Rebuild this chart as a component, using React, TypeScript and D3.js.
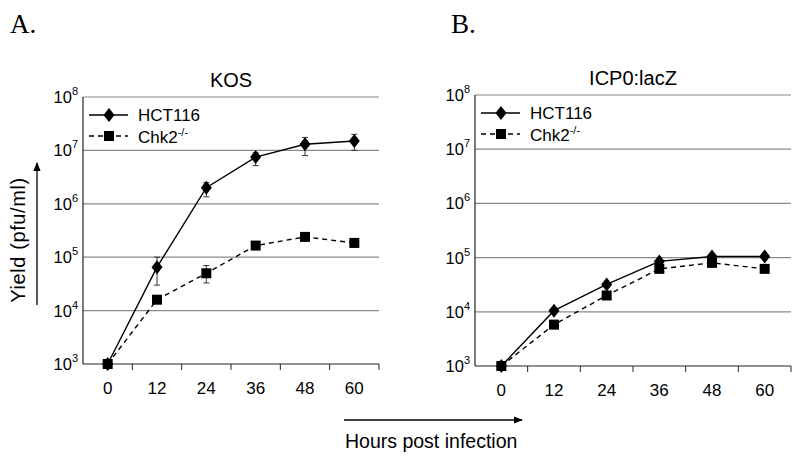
import React from 'react'
import * as d3 from 'd3'

const hours = ['0', '12', '24', '36', '48', '60']

// KOS panel
const kosHct = [1e3, 6.5e4, 2.0e6, 7.5e6, 1.3e7, 1.5e7]
const kosHctLo = [1e3, 3.0e4, 1.35e6, 5.2e6, 8.0e6, 1.0e7]
const kosHctHi = [1e3, 1.0e5, 2.5e6, 9.0e6, 1.75e7, 2.0e7]
const kosChk = [1e3, 1.6e4, 5.0e4, 1.65e5, 2.4e5, 1.85e5]
const kosChkLo = [1e3, 1.5e4, 3.3e4, 1.55e5, 2.1e5, 1.8e5]
const kosChkHi = [1e3, 1.7e4, 7.0e4, 1.8e5, 2.8e5, 1.9e5]

// ICP0:lacZ panel
const lacHct = [1e3, 1.05e4, 3.2e4, 8.5e4, 1.05e5, 1.05e5]
const lacChk = [1e3, 5.8e3, 2.0e4, 6.2e4, 8.0e4, 6.2e4]

const yTicks = [3, 4, 5, 6, 7, 8]

const sans = 'Liberation Sans, Arial, sans-serif'

interface PanelProps {
  title: string
  x0: number
  x1: number
  y0: number
  y1: number
  hct: number[]
  chk: number[]
  hctLo?: number[]
  hctHi?: number[]
  chkLo?: number[]
  chkHi?: number[]
}

function Diamond({ x, y }: { x: number; y: number }) {
  return <path d={`M${x},${y - 7}L${x + 5.5},${y}L${x},${y + 7}L${x - 5.5},${y}Z`} fill="#000" />
}
function Square({ x, y }: { x: number; y: number }) {
  return <rect x={x - 5} y={y - 5} width={10} height={10} fill="#000" />
}

function Panel(p: PanelProps) {
  const x = d3.scaleBand().domain(hours).range([p.x0, p.x1])
  const y = d3.scaleLog().domain([1e3, 1e8]).range([p.y1, p.y0])
  const cx = (h: string) => (x(h) as number) + x.bandwidth() / 2
  const line = d3.line<number>()
    .x((_, i) => cx(hours[i]))
    .y(d => y(d))

  const errs = (v: number[], lo?: number[], hi?: number[]) =>
    lo && hi
      ? v.map((_, i) => {
          if (lo[i] === hi[i]) return null
          const px = cx(hours[i])
          return (
            <g key={i} stroke="#333" strokeWidth={1}>
              <line x1={px} x2={px} y1={y(hi[i])} y2={y(lo[i])} />
              <line x1={px - 3} x2={px + 3} y1={y(hi[i])} y2={y(hi[i])} />
              <line x1={px - 3} x2={px + 3} y1={y(lo[i])} y2={y(lo[i])} />
            </g>
          )
        })
      : null

  const lx = p.x0 + 6
  return (
    <g>
      <text x={(p.x0 + p.x1) / 2} y={p.y0 - 10} textAnchor="middle" fontSize={20} fontFamily={sans}>
        {p.title}
      </text>
      {yTicks.slice(1).map(t => (
        <line key={t} x1={p.x0} x2={p.x1} y1={y(10 ** t)} y2={y(10 ** t)} stroke="#8a8a8a" strokeWidth={1.2} />
      ))}
      {yTicks.map(t => (
        <text key={t} x={p.x0 - 5} y={y(10 ** t) + 6} textAnchor="end" fontSize={16.5} fontFamily={sans}>
          10
          <tspan fontSize={11} dy={-8}>{t}</tspan>
        </text>
      ))}
      <line x1={p.x0} x2={p.x0} y1={p.y0} y2={p.y1} stroke="#222" strokeWidth={1.2} />
      <line x1={p.x0} x2={p.x1} y1={p.y1} y2={p.y1} stroke="#222" strokeWidth={1.2} />
      {hours.slice(1).map(h => (
        <line key={h} x1={x(h) as number} x2={x(h) as number} y1={p.y1} y2={p.y1 + 6} stroke="#222" />
      ))}
      <line x1={p.x1} x2={p.x1} y1={p.y1} y2={p.y1 + 6} stroke="#222" />
      {hours.map(h => (
        <text key={h} x={cx(h)} y={p.y1 + 30} textAnchor="middle" fontSize={17} fontFamily={sans}>
          {h}
        </text>
      ))}

      {errs(p.hct, p.hctLo, p.hctHi)}
      {errs(p.chk, p.chkLo, p.chkHi)}
      <path d={line(p.chk) || ''} fill="none" stroke="#000" strokeWidth={1.4} strokeDasharray="5,4" />
      <path d={line(p.hct) || ''} fill="none" stroke="#000" strokeWidth={1.4} />
      {p.chk.map((v, i) => <Square key={i} x={cx(hours[i])} y={y(v)} />)}
      {p.hct.map((v, i) => <Diamond key={i} x={cx(hours[i])} y={y(v)} />)}

      {/* legend */}
      <line x1={lx} x2={lx + 39} y1={p.y0 + 18} y2={p.y0 + 18} stroke="#000" strokeWidth={1.4} />
      <Diamond x={lx + 20} y={p.y0 + 18} />
      <text x={lx + 49} y={p.y0 + 24} fontSize={17} fontFamily={sans}>HCT116</text>
      <line x1={lx} x2={lx + 39} y1={p.y0 + 39} y2={p.y0 + 39} stroke="#000" strokeWidth={1.4} strokeDasharray="5,4" />
      <Square x={lx + 20} y={p.y0 + 39} />
      <text x={lx + 49} y={p.y0 + 46} fontSize={17} fontFamily={sans}>
        Chk2
        <tspan fontSize={11} dy={-7}>-/-</tspan>
      </text>
    </g>
  )
}

export default function App() {
  return (
    <svg width={800} height={459} style={{ position: 'absolute', left: 0, top: 0, background: '#fff' }}>
      <defs>
        <marker id="ah" viewBox="0 0 10 10" refX={9} refY={5} markerWidth={7} markerHeight={7} orient="auto">
          <path d="M0,1L10,5L0,9Z" fill="#000" />
        </marker>
      </defs>
      <text x={10} y={33} fontSize={27} fontFamily="Liberation Serif, Times New Roman, serif">A.</text>
      <text x={451} y={33} fontSize={27} fontFamily="Liberation Serif, Times New Roman, serif">B.</text>

      <Panel title="KOS" x0={83} x1={379} y0={97} y1={364}
        hct={kosHct} hctLo={kosHctLo} hctHi={kosHctHi}
        chk={kosChk} chkLo={kosChkLo} chkHi={kosChkHi} />
      <Panel title="ICP0:lacZ" x0={475} x1={791} y0={95} y1={366}
        hct={lacHct} chk={lacChk} />

      <text transform="translate(25,240) rotate(-90)" textAnchor="middle" fontSize={20} letterSpacing={0.6} fontFamily={sans}>
        Yield (pfu/ml)
      </text>
      <line x1={37} x2={37} y1={305} y2={163} stroke="#000" strokeWidth={1.3} markerEnd="url(#ah)" />

      <line x1={344} x2={522} y1={420} y2={420} stroke="#000" strokeWidth={1.3} markerEnd="url(#ah)" />
      <text x={345} y={448} fontSize={19.5} fontFamily={sans}>Hours post infection</text>
    </svg>
  )
}
